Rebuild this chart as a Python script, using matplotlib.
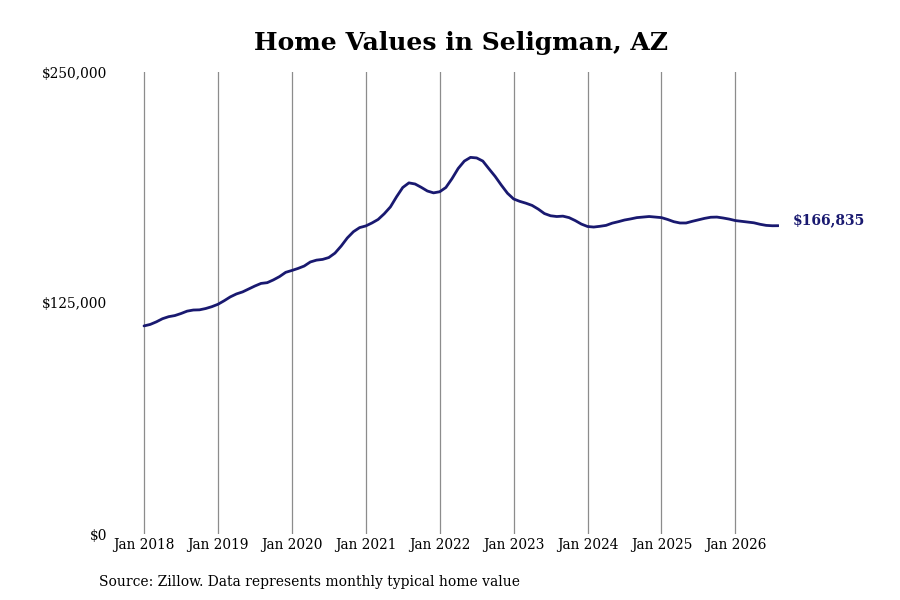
import numpy as np
import matplotlib.pyplot as plt

# Monthly typical home value, Jan 2018 .. Aug 2026
values = [
    112600, 113400, 114800, 116500, 117600, 118200, 119300, 120600, 121200, 121300, 122000, 123000,
    124300, 126200, 128300, 129900, 131000, 132600, 134200, 135600, 136000, 137500, 139300, 141600,
    142600, 143700, 145000, 147200, 148200, 148600, 149600, 152000, 155800, 160200, 163600, 165800,
    166700, 168300, 170200, 173300, 177000, 182500, 187500, 190000, 189400, 187600, 185600, 184600,
    185200, 187500, 192300, 197800, 201800, 203800, 203500, 201800, 197600, 193500, 188800, 184400,
    181300, 180000, 179000, 177800, 175800, 173400, 172200, 171800, 172000, 171200, 169600, 167700,
    166400, 166100, 166500, 167000, 168200, 169000, 169900, 170500, 171200, 171500, 171800, 171500,
    171200, 170200, 169000, 168300, 168300, 169200, 170000, 170800, 171400, 171500, 171000, 170400,
    169600, 169200, 168800, 168400, 167600, 167000, 166800, 166835,
]
year_labels = ["Jan %d" % y for y in range(2018, 2027)]
y_ticks = [0, 125000, 250000]
y_labels = ["$0", "$125,000", "$250,000"]

line_color = "#191970"
plt.rcParams["font.family"] = ["DejaVu Serif"]

fig = plt.figure(figsize=(9, 6), dpi=100)
ax = fig.add_axes([120 / 900, 66 / 600, 658.5 / 900, 462 / 600])

months = np.arange(len(values))
ax.plot(months, values, color=line_color, lw=2.0, solid_capstyle="round", zorder=3)

ax.set_xlim(-3.9, len(values) - 1)
ax.set_ylim(0, 250000)
ax.set_xticks(np.arange(len(year_labels)) * 12)
ax.set_xticklabels(year_labels, fontsize=11, fontstretch="condensed")
ax.set_yticks(y_ticks)
ax.set_yticklabels(y_labels, fontsize=11, fontstretch="condensed")
ax.tick_params(axis="both", length=0)
ax.tick_params(axis="y", pad=9)
ax.tick_params(axis="x", pad=3)
ax.grid(axis="x", color="#8c8c8c", lw=0.9)
for s in ax.spines.values():
    s.set_visible(False)

last = len(values) - 1
ax.annotate("$%s" % format(values[last], ","), (last, values[last]),
            xytext=(10, 4), textcoords="offset points", va="center", ha="left",
            fontsize=10, fontweight="bold", color=line_color)

fig.text(461 / 900, 1 - 43 / 600, "Home Values in Seligman, AZ", ha="center", va="center",
         fontsize=18, fontweight="bold")
fig.text(99 / 900, 1 - 582 / 600, "Source: Zillow. Data represents monthly typical home value",
         ha="left", va="center", fontsize=11.05, fontstretch="condensed")

fig.savefig("out.png", dpi=100)
